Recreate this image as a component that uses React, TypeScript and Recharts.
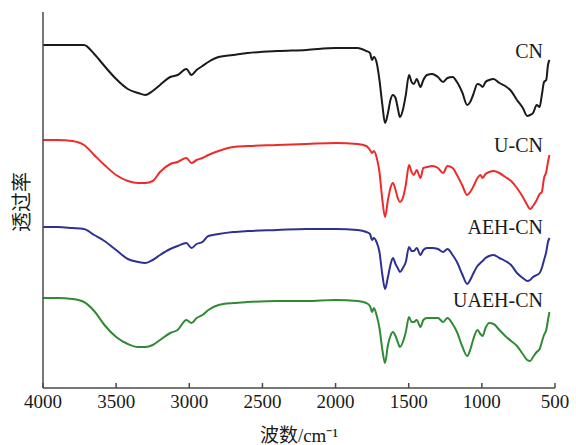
import { Label, Line, LineChart, ReferenceDot, XAxis, YAxis } from "recharts";

// wavenumber grid (cm-1), shared by all four spectra
const WAVENUMBERS = [
  4000, 3900, 3800, 3720, 3650, 3580, 3500, 3420, 3350, 3300,
  3250, 3200, 3130, 3080, 3020, 2985, 2950, 2910, 2870, 2800,
  2700, 2600, 2400, 2200, 2000, 1850, 1790, 1765, 1750, 1738,
  1720, 1700, 1680, 1662, 1642, 1625, 1608, 1590, 1575, 1560,
  1540, 1520, 1498, 1480, 1465, 1445, 1420, 1400, 1375, 1340,
  1300, 1265, 1235, 1200, 1170, 1135, 1100, 1080, 1060, 1030,
  1010, 995, 975, 950, 920, 880, 840, 800, 760, 720,
  690, 670, 650, 625, 605, 590, 575, 560, 548, 538,
];

// transmittance, arbitrary units, spectra offset vertically
const CN = [
  343, 343, 343, 343, 334, 322, 309, 299, 295, 293,
  297, 303, 311, 313, 319, 313, 318, 322, 326, 331,
  333, 335, 337, 338, 340, 340, 337, 335, 328, 331,
  326, 308, 283, 265, 275, 288, 293, 290, 280, 271,
  278, 293, 313, 306, 304, 309, 301, 308, 313, 314,
  311, 306, 310, 311, 306, 296, 283, 286, 293, 304,
  303, 301, 306, 308, 309, 305, 302, 297, 288, 280,
  272, 273, 275, 283, 281, 293, 306, 308, 323, 328,
];

const U_CN = [
  248, 248, 247, 243, 233, 223, 213, 207, 205, 205,
  207, 216, 224, 226, 230, 225, 228, 230, 233, 237,
  241, 242, 243, 244, 245, 244, 242, 238, 235, 237,
  231, 216, 188, 171, 188, 200, 205, 198, 190, 186,
  190, 203, 223, 216, 213, 218, 210, 220, 221, 222,
  220, 215, 222, 220, 213, 203, 193, 196, 201, 210,
  213, 210, 214, 216, 217, 215, 211, 207, 200, 191,
  183, 179, 182, 188, 194, 196, 210, 216, 226, 233,
];

const AEH_CN = [
  161, 161, 160, 159, 153, 147, 138, 129, 126, 125,
  128, 133, 139, 142, 145, 140, 144, 146, 152, 154,
  156, 157, 158, 159, 159, 158, 156, 154, 148, 150,
  146, 136, 113, 99, 111, 123, 130, 124, 120, 116,
  120, 126, 141, 137, 137, 140, 133, 138, 140, 140,
  139, 136, 139, 133, 126, 114, 104, 108, 114, 122,
  125, 127, 130, 132, 133, 130, 127, 123, 115, 110,
  107, 108, 111, 113, 115, 120, 128, 136, 146, 150,
];

const UAEH_CN = [
  90, 90, 89, 86, 77, 63, 51, 44, 41, 41,
  43, 48, 55, 58, 68, 65, 70, 73, 78, 83,
  85, 86, 87, 87, 88, 87, 85, 82, 76, 80,
  73, 60, 38, 25, 43, 52, 56, 52, 46, 41,
  46, 56, 71, 66, 66, 68, 61, 68, 70, 70,
  70, 66, 70, 64, 56, 42, 32, 38, 48, 58,
  54, 52, 60, 65, 64, 58, 52, 47, 42, 34,
  28, 27, 31, 36, 39, 46, 53, 58, 68, 76,
];

const X_TICKS = [4000, 3500, 3000, 2500, 2000, 1500, 1000, 500];

const SERIES = [
  { key: "cn", name: "CN", values: CN, color: "#1a1a1a", labelY: 337 },
  { key: "ucn", name: "U-CN", values: U_CN, color: "#ee2b2b", labelY: 243 },
  { key: "aehcn", name: "AEH-CN", values: AEH_CN, color: "#2e3192", labelY: 161 },
  { key: "uaehcn", name: "UAEH-CN", values: UAEH_CN, color: "#2f8a34", labelY: 88 },
];

const data = WAVENUMBERS.map((wn, i) => {
  const row: Record<string, number> = { wn };
  SERIES.forEach((s) => (row[s.key] = s.values[i]));
  return row;
});

const FONT = "'Liberation Serif', 'Times New Roman', 'Noto Sans CJK SC', serif";
const AXIS_COLOR = "#4a4a4a";

export default function App() {
  return (
    <div style={{ width: 576, height: 445, fontFamily: FONT }}>
      <style>{"body{margin:0}"}</style>
      <LineChart
        width={576}
        height={445}
        data={data}
        margin={{ top: 12, right: 21, left: 33, bottom: 0 }}
      >
        <XAxis
          dataKey="wn"
          type="number"
          domain={[500, 4000]}
          reversed
          ticks={X_TICKS}
          height={57}
          stroke={AXIS_COLOR}
          strokeWidth={1.5}
          tickSize={-5}
          tickMargin={12}
          tick={{ fill: "#1a1a1a", fontSize: 19, fontFamily: FONT }}
        >
          <Label
            value="波数/cm⁻¹"
            position="insideBottom"
            offset={3}
            style={{ fill: "#1a1a1a", fontSize: 19, fontFamily: FONT }}
          />
        </XAxis>
        <YAxis
          type="number"
          domain={[0, 376]}
          width={10}
          tick={false}
          tickLine={false}
          stroke={AXIS_COLOR}
          strokeWidth={1.5}
        >
          <Label
            content={() => (
              <text
                x={22}
                y={202}
                transform="rotate(-90 22 202)"
                textAnchor="middle"
                dominantBaseline="central"
                fill="#1a1a1a"
                fontSize={20}
                fontFamily={FONT}
              >
                透过率
              </text>
            )}
          />
        </YAxis>
        {SERIES.map((s) => (
          <Line
            key={s.key}
            dataKey={s.key}
            name={s.name}
            type="monotone"
            stroke={s.color}
            strokeWidth={2}
            dot={false}
            isAnimationActive={false}
          />
        ))}
        {SERIES.map((s) => (
          <ReferenceDot
            key={"lbl-" + s.key}
            x={582}
            y={s.labelY}
            r={0}
            stroke="none"
            label={{
              value: s.name,
              position: "left",
              offset: 0,
              fill: "#1a1a1a",
              fontSize: 20,
              fontFamily: FONT,
            }}
          />
        ))}
      </LineChart>
    </div>
  );
}
